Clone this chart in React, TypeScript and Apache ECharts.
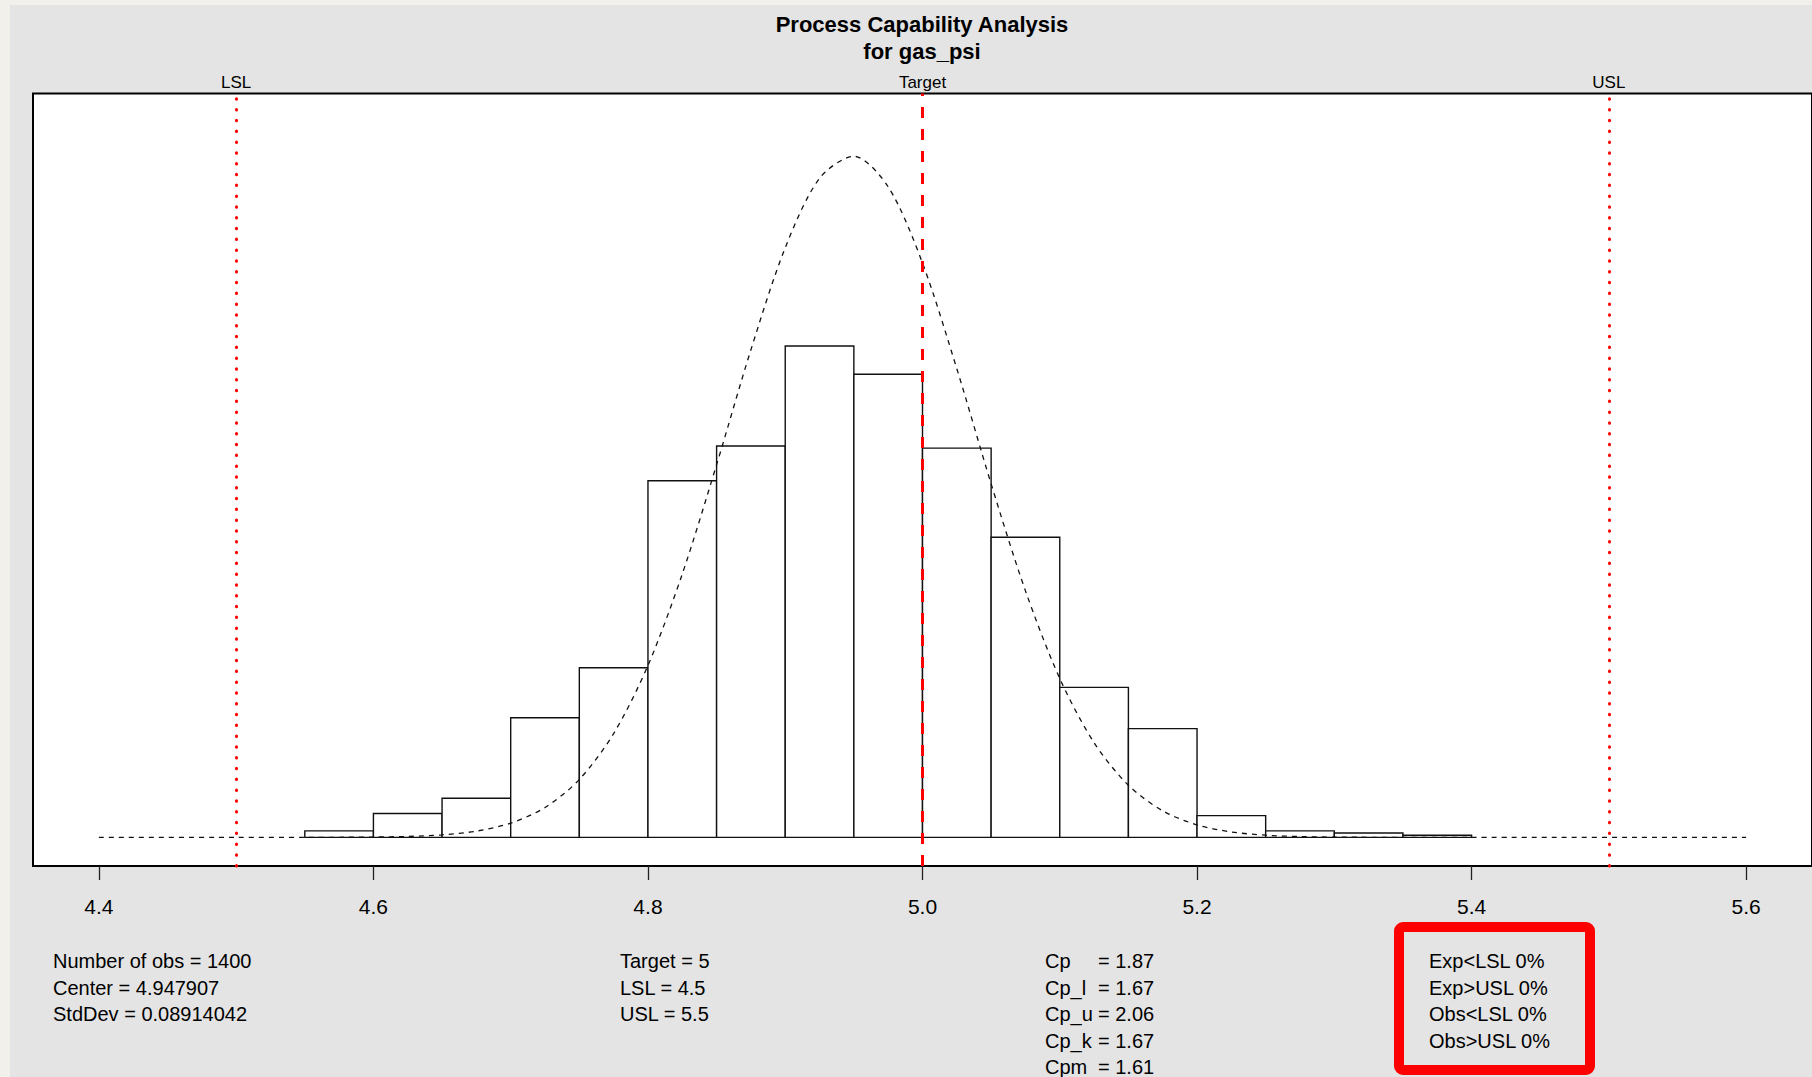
import React, { useEffect, useRef } from "react";
import * as echarts from "echarts";

// ---------------- data ----------------
const nObs = 1400;
const binWidth = 0.05;
const binStarts = [4.55, 4.6, 4.65, 4.7, 4.75, 4.8, 4.85, 4.9, 4.95, 5.0, 5.05, 5.1, 5.15, 5.2, 5.25, 5.3, 5.35];
const binCounts = [3, 11, 18, 55, 78, 164, 180, 226, 213, 179, 138, 69, 50, 10, 3, 2, 1];

// fitted normal density (Center = 4.947907, StdDev = 0.08914042), read at these x
const curveX = [4.4, 4.5, 4.55, 4.575, 4.6, 4.625, 4.65, 4.675, 4.7, 4.725, 4.75, 4.775, 4.8, 4.825, 4.85, 4.875, 4.9, 4.925, 4.95, 4.975, 5.0, 5.025, 5.05, 5.075, 5.1, 5.125, 5.15, 5.175, 5.2, 5.225, 5.25, 5.275, 5.3, 5.325, 5.35, 5.4, 5.6];
const curveY = [0, 0.00001, 0.0002, 0.0007, 0.0022, 0.0063, 0.0168, 0.0413, 0.0936, 0.1963, 0.3806, 0.6821, 1.1296, 1.7302, 2.4485, 3.2031, 3.8735, 4.3299, 4.4742, 4.2734, 3.7728, 3.0789, 2.3226, 1.6195, 1.0439, 0.622, 0.3426, 0.1744, 0.082, 0.0357, 0.0144, 0.0053, 0.0018, 0.0006, 0.0002, 0, 0];

const xTicks = [4.4, 4.6, 4.8, 5.0, 5.2, 5.4, 5.6];
const specNames = ["LSL", "Target", "USL"];
const specValues = [4.5, 5.0, 5.5];

const titleLines = ["Process Capability Analysis", "for gas_psi"];
const statsCol1 = ["Number of obs = 1400", "Center = 4.947907", "StdDev = 0.08914042"];
const statsCol2 = ["Target = 5", "LSL = 4.5", "USL = 5.5"];
const statsCol3Names = ["Cp", "Cp_l", "Cp_u", "Cp_k", "Cpm"];
const statsCol3Values = ["= 1.87", "= 1.67", "= 2.06", "= 1.67", "= 1.61"];
const statsCol4 = ["Exp<LSL 0%", "Exp>USL 0%", "Obs<LSL 0%", "Obs>USL 0%"];

// R-style axis limits (4% expansion)
const xMin = 4.352;
const xMax = 5.648;
const yTop = 4.699;
const yMin = -0.04 * yTop;
const yMax = 1.04 * yTop;

const FONT = '"Liberation Sans", Arial, Helvetica, sans-serif';

export default function App() {
  const ref = useRef<HTMLDivElement>(null);

  useEffect(() => {
    if (!ref.current) return;
    const chart = echarts.init(ref.current, null, { renderer: "svg" });

    const histData = binStarts.map((s, i) => [s, s + binWidth, binCounts[i] / (nObs * binWidth)]);
    const curveData = curveX.map((x, i) => [x, curveY[i]]);

    const rowY = [961, 987.6, 1014.2, 1040.8, 1067.4];
    const txt = (text: string, x: number, y: number, size = 20, align = "left", weight = "normal") => ({
      type: "text",
      x,
      y,
      silent: true,
      style: {
        text,
        fill: "#000",
        fontSize: size,
        fontFamily: FONT,
        fontWeight: weight,
        align,
        verticalAlign: "middle",
      },
    });

    const graphics: any[] = [
      { type: "rect", shape: { x: 0, y: 0, width: 10, height: 1077 }, style: { fill: "#f1f0eb" }, silent: true },
      { type: "rect", shape: { x: 0, y: 0, width: 1812, height: 5 }, style: { fill: "#f1f0eb" }, silent: true },
      txt(titleLines[0], 922, 24.5, 22, "center", "bold"),
      txt(titleLines[1], 922, 51, 22, "center", "bold"),
    ];
    statsCol1.forEach((t, i) => graphics.push(txt(t, 53, rowY[i])));
    statsCol2.forEach((t, i) => graphics.push(txt(t, 620, rowY[i])));
    statsCol3Names.forEach((t, i) => graphics.push(txt(t, 1045, rowY[i])));
    statsCol3Values.forEach((t, i) => graphics.push(txt(t, 1098, rowY[i])));
    statsCol4.forEach((t, i) => graphics.push(txt(t, 1429, rowY[i])));
    graphics.push({
      type: "rect",
      shape: { x: 1399, y: 927, width: 191, height: 143, r: 4 },
      style: { fill: "none", stroke: "#ff0000", lineWidth: 10 },
      silent: true,
    });

    const lineStyles = [
      { color: "#ff0000", width: 3, type: [0.5, 10.3], cap: "round" },
      { color: "#ff0000", width: 3, type: [11, 11] },
      { color: "#ff0000", width: 3, type: [0.5, 10.3], cap: "round" },
    ];

    chart.setOption({
      animation: false,
      backgroundColor: "#e4e4e4",
      grid: {
        left: 33,
        right: -1,
        top: 93.5,
        bottom: 211,
        show: true,
        backgroundColor: "#ffffff",
        borderColor: "#000000",
        borderWidth: 2,
      },
      xAxis: {
        type: "value",
        position: "bottom",
        min: xMin,
        max: xMax,
        splitLine: { show: false },
        axisLine: { show: false, onZero: false },
        axisTick: {
          show: true,
          inside: false,
          customValues: xTicks,
          length: 14,
          lineStyle: { color: "#222", width: 1.3 },
        },
        axisLabel: {
          show: true,
          customValues: xTicks,
          formatter: (v: number) => v.toFixed(1),
          fontSize: 21,
          fontFamily: FONT,
          color: "#000",
          margin: 30,
        },
      },
      yAxis: {
        type: "value",
        min: yMin,
        max: yMax,
        show: false,
        splitLine: { show: false },
      },
      graphic: { elements: graphics },
      series: [
        {
          type: "custom",
          silent: true,
          encode: { x: [0, 1], y: 2 },
          data: histData,
          z: 2,
          renderItem: (params: any, api: any) => {
            const p0 = api.coord([api.value(0), 0]);
            const p1 = api.coord([api.value(1), api.value(2)]);
            return {
              type: "rect",
              shape: { x: p0[0], y: p1[1], width: p1[0] - p0[0], height: p0[1] - p1[1] },
              style: { fill: "#ffffff", stroke: "#111", lineWidth: 1.4 },
            };
          },
        },
        {
          type: "line",
          silent: true,
          data: curveData,
          showSymbol: false,
          smooth: 0.3,
          z: 3,
          lineStyle: { color: "#111", width: 1.3, type: [5, 5] },
          markLine: {
            silent: true,
            symbol: "none",
            animation: false,
            data: specNames.map((n, i) => ({
              name: n,
              xAxis: specValues[i],
              lineStyle: lineStyles[i],
              label: {
                show: true,
                position: "end",
                formatter: "{b}",
                fontSize: 17,
                fontFamily: FONT,
                color: "#000",
                distance: 3,
              },
            })),
          },
        },
      ],
    });

    return () => chart.dispose();
  }, []);

  return <div ref={ref} style={{ position: "fixed", left: 0, top: 0, width: 1812, height: 1077 }} />;
}
